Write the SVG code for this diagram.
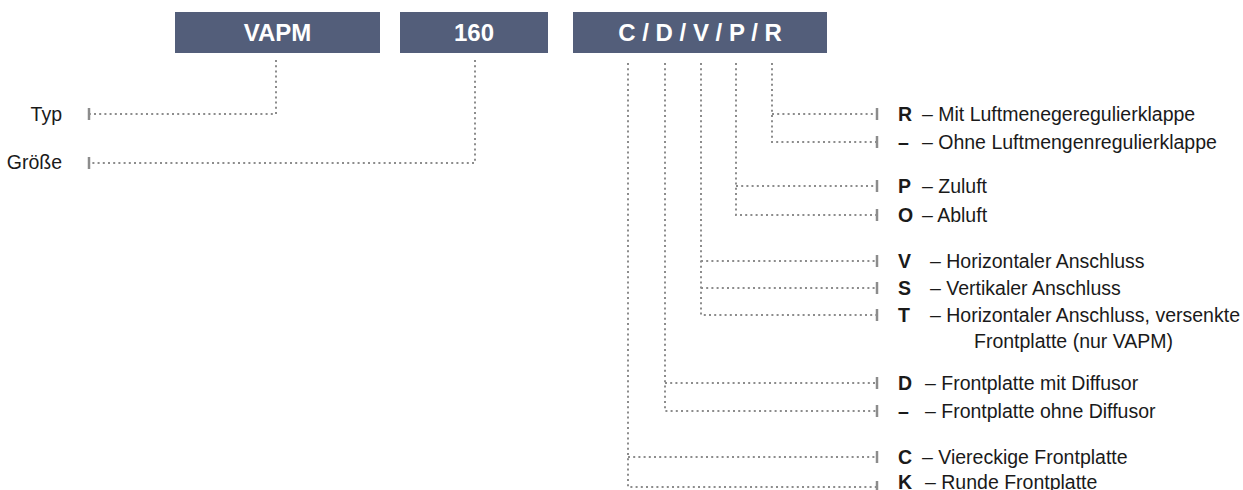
<svg xmlns="http://www.w3.org/2000/svg" width="1243" height="490" viewBox="0 0 1243 490">
<style>
.box{fill:#535e7a}
.bt{font-family:"Liberation Sans",Arial,sans-serif;font-weight:bold;font-size:24px;fill:#ffffff;text-anchor:middle}
.t{font-family:"Liberation Sans",Arial,sans-serif;font-size:19.5px;fill:#1a1a1a}
.b{font-weight:bold}
.dot{fill:none;stroke:#8c8c8c;stroke-width:2;stroke-dasharray:2 3.2}
.tick{stroke:#8c8c8c;stroke-width:2.5}
</style>
<g id="node-vapm"><rect class="box" x="175" y="12" width="205" height="41"/><text class="bt" x="277.5" y="41">VAPM</text></g>
<g id="node-160"><rect class="box" x="400" y="12" width="148" height="41"/><text class="bt" x="474" y="41">160</text></g>
<g id="node-options"><rect class="box" x="573" y="12" width="254" height="41"/><text class="bt" x="700" y="41">C / D / V / P / R</text></g>
<g id="connectors">
<path class="dot" d="M276 60 V114 H90"/>
<path class="dot" d="M475 60 V163 H90"/>
<path class="dot" d="M772 63 V142 H876 M772 114 H876"/>
<path class="dot" d="M736 63 V215 H876 M736 186 H876"/>
<path class="dot" d="M701 63 V315 H876 M701 261 H876 M701 288 H876"/>
<path class="dot" d="M665 63 V411 H876 M665 383 H876"/>
<path class="dot" d="M628 63 V487 H876 M628 457 H876"/>
<g class="tick">
<line x1="89" y1="108" x2="89" y2="120"/>
<line x1="89" y1="157" x2="89" y2="169"/>
<line x1="877" y1="108" x2="877" y2="120"/>
<line x1="877" y1="136" x2="877" y2="148"/>
<line x1="877" y1="180" x2="877" y2="192"/>
<line x1="877" y1="209" x2="877" y2="221"/>
<line x1="877" y1="255" x2="877" y2="267"/>
<line x1="877" y1="282" x2="877" y2="294"/>
<line x1="877" y1="309" x2="877" y2="321"/>
<line x1="877" y1="377" x2="877" y2="389"/>
<line x1="877" y1="405" x2="877" y2="417"/>
<line x1="877" y1="451" x2="877" y2="463"/>
<line x1="877" y1="481" x2="877" y2="493"/>
</g>
</g>
<g id="label-typ"><text class="t" x="62" y="121" text-anchor="end">Typ</text></g>
<g id="label-groesse"><text class="t" x="62" y="169" text-anchor="end">Größe</text></g>
<g id="opt-R"><text class="t b" x="898" y="121">R</text><text class="t" x="922" y="121">– Mit Luftmenegeregulierklappe</text></g>
<g id="opt-R-none"><text class="t b" x="898" y="149">–</text><text class="t" x="922" y="149">– Ohne Luftmengenregulierklappe</text></g>
<g id="opt-P"><text class="t b" x="898" y="193">P</text><text class="t" x="922" y="193">– Zuluft</text></g>
<g id="opt-O"><text class="t b" x="898" y="222">O</text><text class="t" x="922" y="222">– Abluft</text></g>
<g id="opt-V"><text class="t b" x="898" y="268">V</text><text class="t" x="930" y="268">– Horizontaler Anschluss</text></g>
<g id="opt-S"><text class="t b" x="898" y="295">S</text><text class="t" x="930" y="295">– Vertikaler Anschluss</text></g>
<g id="opt-T"><text class="t b" x="898" y="322">T</text><text class="t" x="930" y="322">– Horizontaler Anschluss, versenkte</text><text class="t" x="974" y="348">Frontplatte (nur VAPM)</text></g>
<g id="opt-D"><text class="t b" x="898" y="390">D</text><text class="t" x="925" y="390">– Frontplatte mit Diffusor</text></g>
<g id="opt-D-none"><text class="t b" x="898" y="418">–</text><text class="t" x="925" y="418">– Frontplatte ohne Diffusor</text></g>
<g id="opt-C"><text class="t b" x="898" y="464">C</text><text class="t" x="922" y="464">– Viereckige Frontplatte</text></g>
<g id="opt-K"><text class="t b" x="898" y="489">K</text><text class="t" x="925" y="489">– Runde Frontplatte</text></g>
</svg>
